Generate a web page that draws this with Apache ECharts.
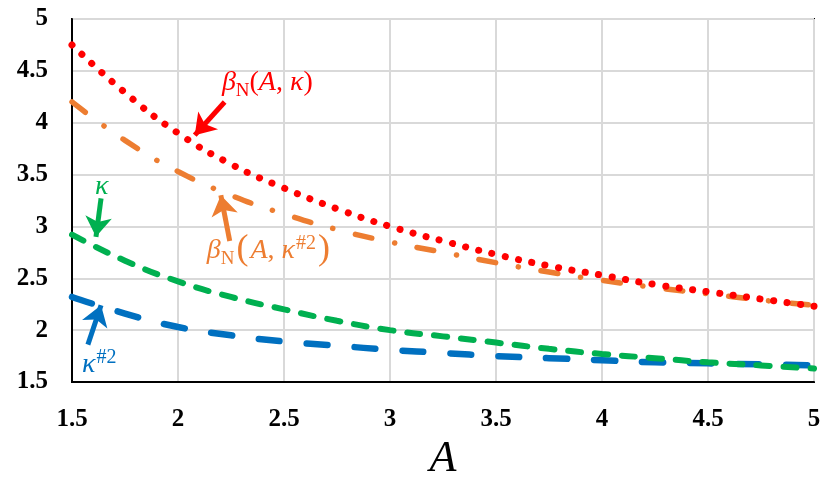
<!DOCTYPE html>
<html>
<head>
<meta charset="utf-8">
<script src="https://cdn.jsdelivr.net/npm/echarts@6/dist/echarts.min.js"></script>
<style>
  html, body { margin: 0; padding: 0; background: #fff; }
  #chart { width: 822px; height: 479px; }
</style>
</head>
<body>
<div id="chart"></div>
<script>
// A values (x axis)
const aValues = [1.5, 1.75, 2, 2.25, 2.5, 2.75, 3, 3.25, 3.5, 3.75, 4, 4.25, 4.5, 4.75, 5];
// beta_N(A, kappa) - red dotted
const betaKappa = [4.75, 4.29, 3.9, 3.6, 3.37, 3.17, 3.0, 2.86, 2.73, 2.62, 2.53, 2.44, 2.37, 2.3, 2.23];
// beta_N(A, kappa#2) - orange dash dot
const betaKappa2 = [4.2, 3.83, 3.53, 3.3, 3.12, 2.97, 2.85, 2.75, 2.65, 2.56, 2.48, 2.41, 2.35, 2.29, 2.24];
// kappa - green dashed
const kappa = [2.92, 2.67, 2.47, 2.32, 2.2, 2.09, 2.0, 1.94, 1.88, 1.82, 1.77, 1.73, 1.69, 1.66, 1.63];
// kappa#2 - blue long dash
const kappa2 = [2.32, 2.16, 2.03, 1.95, 1.89, 1.85, 1.81, 1.78, 1.75, 1.73, 1.71, 1.69, 1.68, 1.67, 1.66];

const RED = '#ff0000', ORANGE = '#ed7d31', GREEN = '#00b050', BLUE = '#0070c0';

function pairs(ys) {
  return aValues.map((a, i) => [a, ys[i]]);
}

// arrow: [tail, tip] in data coords
function arrow(tail, tip, color) {
  return {
    silent: true,
    animation: false,
    symbol: ['none', 'arrow'],
    symbolSize: 20,
    label: { show: false },
    lineStyle: { color: color, width: 5, type: 'solid' },
    data: [[{ coord: tail }, { coord: tip }]]
  };
}

const myChart = echarts.init(document.getElementById('chart'));

const option = {
  animation: false,
  grid: {
    left: 72, right: 8, top: 19, bottom: 97,
    outerBoundsMode: 'none',
    show: true, borderColor: '#000', borderWidth: 2
  },
  xAxis: {
    type: 'value',
    min: 1.5, max: 5, interval: 0.5,
    name: 'A',
    nameLocation: 'middle',
    nameGap: 55,
    nameTextStyle: { fontFamily: 'Liberation Serif', fontStyle: 'italic', fontSize: 44, color: '#000' },
    axisLine: { lineStyle: { color: '#000', width: 2 } },
    axisTick: { show: false },
    axisLabel: { fontFamily: 'Liberation Serif', fontWeight: 'bold', fontSize: 25, color: '#000', margin: 25 },
    splitLine: { lineStyle: { color: '#d9d9d9', width: 2 } }
  },
  yAxis: {
    type: 'value',
    min: 1.5, max: 5, interval: 0.5,
    axisLine: { show: true, lineStyle: { color: '#000', width: 2 } },
    axisTick: { show: false },
    axisLabel: { fontFamily: 'Liberation Serif', fontWeight: 'bold', fontSize: 25, color: '#000', margin: 24 },
    splitLine: { lineStyle: { color: '#d9d9d9', width: 2 } }
  },
  series: [
    {
      type: 'line', data: pairs(kappa2), smooth: true, symbol: 'none',
      lineStyle: { color: BLUE, width: 6.5, type: [21, 27], cap: 'round' },
      markLine: arrow([1.575, 1.86], [1.637, 2.24], BLUE)
    },
    {
      type: 'line', data: pairs(kappa), smooth: true, symbol: 'none',
      lineStyle: { color: GREEN, width: 6, type: [13, 14], cap: 'round' },
      markLine: arrow([1.637, 3.27], [1.613, 2.9], GREEN)
    },
    {
      type: 'line', data: pairs(betaKappa2), smooth: true, symbol: 'none',
      lineStyle: { color: ORANGE, width: 5.5, type: [17, 23, 0.1, 23], cap: 'round' },
      markLine: arrow([2.244, 2.86], [2.202, 3.3], ORANGE)
    },
    {
      type: 'line', data: pairs(betaKappa), smooth: true, symbol: 'none',
      lineStyle: { color: RED, width: 7, type: [0.1, 13.5], cap: 'round' },
      markLine: arrow([2.22, 4.2], [2.079, 3.88], RED)
    }
  ]
};

myChart.setOption(option);

function richStyle(color) {
  const base = { fontFamily: 'Liberation Serif', fill: color, verticalAlign: 'top' };
  return {
    i: Object.assign({}, base, { fontStyle: 'italic', fontSize: 28 }),
    n: Object.assign({}, base, { fontSize: 28 }),
    p: Object.assign({}, base, { fontSize: 36, padding: [-5, 2, 0, 2] }),
    sub: Object.assign({}, base, { fontSize: 19, padding: [13, 0, 0, 0] }),
    sup: Object.assign({}, base, { fontSize: 20, padding: [-3, 0, 0, 1] })
  };
}

function label(pos, text, color) {
  const px = myChart.convertToPixel({ gridIndex: 0 }, pos);
  return {
    type: 'text', x: px[0], y: px[1], silent: true,
    style: { text: text, rich: richStyle(color), fill: color }
  };
}

myChart.setOption({
  graphic: [
    label([2.207, 4.52], '{i|β}{sub|N}{n|(}{i|A}{n|, }{i|κ}{n|)}', RED),
    label([2.136, 2.9], '{i|β}{sub|N}{p|(}{i|A}{n|, }{i|κ}{sup|#2}{p|)}', ORANGE),
    label([1.608, 3.52], '{i|κ}', GREEN),
    label([1.547, 1.8], '{i|κ}{sup|#2}', BLUE)
  ]
});
</script>
</body>
</html>
